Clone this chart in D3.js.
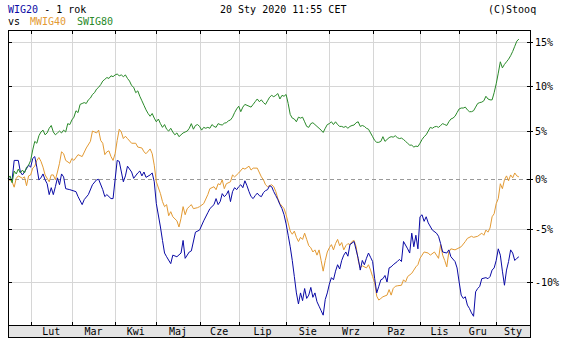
<!DOCTYPE html>
<html>
<head>
<meta charset="utf-8">
<script src="https://cdn.jsdelivr.net/npm/d3@7"></script>
<style>
  body { margin: 0; background: #fff; }
  svg { display: block; font-family: "DejaVu Sans Mono", monospace; font-size: 10px; }
</style>
</head>
<body>
<svg id="chart" width="574" height="341"></svg>
<script>
// Month labels and the session index (0 = first session shown) where each month starts
const monthLabels = ["Lut","Mar","Kwi","Maj","Cze","Lip","Sie","Wrz","Paz","Lis","Gru","Sty"];
const monthStarts = [11, 31, 52, 72, 93, 112, 135, 156, 177, 200, 219, 237];
const lastSession = 248;
const yTickValues = [15, 10, 5, 0, -5, -10];

// WIG20: session index and % change
const wig20Days = [0,2,3,5,6,7,8,10,11,12,13,14,15,16,17,18,19,20,21,22,23,24,25,26,27,28,30,33,34,36,37,39,41,43,44,46,47,48,50,51,53,54,56,57,58,60,61,63,64,65,66,67,69,70,71,72,74,75,76,77,79,80,82,84,85,86,88,89,91,93,95,97,98,100,101,102,103,104,105,106,107,108,109,110,111,112,113,114,115,116,117,118,119,120,121,122,123,124,125,126,127,128,129,130,131,132,133,134,135,136,137,138,139,140,141,142,143,144,145,146,147,148,149,150,151,152,153,154,155,156,157,158,159,160,161,162,163,164,165,166,168,169,170,171,172,173,174,175,176,177,178,179,180,181,182,183,184,185,186,187,189,190,191,192,194,195,196,197,198,199,200,201,202,203,204,206,208,209,210,211,213,214,215,217,218,219,220,221,222,223,224,225,226,227,228,229,230,232,233,234,235,236,237,238,239,240,241,242,243,244,245,246,247,248];
const wig20Pct = [0,-0.1,1.9,1.9,0.7,0.4,0.7,1.4,1.2,2.1,2.3,1.2,-0.1,0.1,0.5,-0.1,-0.5,-1.6,-0.9,-1.6,-0.8,0.1,-0.6,0.5,0.2,-1.0,-1.1,-1.3,-1.8,-2.6,-2.1,-1.6,-0.6,-0.1,-0.05,-1.1,-1.8,-1.6,-2.0,-2.0,1.9,1.8,-0.3,0.3,1.3,0.7,0.05,0.6,0.8,0.3,0.7,0.15,0.4,0.6,-0.3,-2.5,-4.8,-6.1,-7.3,-7.65,-8.3,-7.5,-7.65,-7.3,-6.1,-7.8,-7.2,-7.1,-5.3,-5.1,-4.2,-3.4,-3.0,-2.6,-2.0,-2.6,-2.3,-1.5,-1.8,-1.6,-1.2,-2.3,-1.3,-0.9,-1.1,-0.8,-0.6,-0.9,-0.2,-0.7,-1.3,-1.8,-2.0,-1.7,-1.45,-1.7,-1.8,-1.4,-1.2,-1.1,-0.7,-0.8,-1.3,-1.7,-2.1,-2.6,-3.0,-3.6,-4.5,-5.6,-6.7,-8.0,-9.5,-11.0,-12.0,-11.0,-11.7,-10.6,-11.5,-11.2,-10.5,-11.4,-11.0,-11.8,-12.2,-12.6,-13.0,-11.6,-11.0,-10.2,-9.6,-9.8,-9.0,-8.4,-8.8,-8.0,-7.5,-7.2,-7.6,-6.5,-6.2,-7.0,-7.8,-8.9,-8.0,-8.4,-7.8,-7.3,-7.7,-8.1,-9.7,-11.0,-10.4,-9.8,-9.7,-9.4,-10.0,-8.7,-8.6,-8.4,-8.1,-7.9,-8.1,-6.2,-6.9,-7.3,-5.4,-6.7,-5.6,-6.9,-3.8,-3.6,-4.25,-3.8,-4.4,-5.1,-5.4,-5.7,-6.4,-7.2,-7.3,-7.0,-7.65,-8.1,-8.7,-10.0,-11.2,-11.5,-11.35,-12.1,-12.4,-12.8,-13.1,-10.9,-10.6,-10.4,-9.7,-9.6,-9.7,-9.5,-8.9,-8.7,-8.0,-6.9,-7.5,-9.0,-10.3,-8.9,-8.1,-7.0,-7.3,-8.0,-7.8,-7.65];

// mWIG40: session index and % change
const mwig40Days = [0,2,3,4,5,7,8,9,10,11,12,13,14,15,16,17,18,20,21,22,23,24,25,26,27,28,30,31,32,34,36,38,40,41,42,43,44,45,46,47,48,49,50,51,52,53,54,55,56,57,58,60,62,63,65,66,67,69,70,71,72,74,75,76,77,78,79,80,82,83,84,85,86,87,88,89,90,92,93,95,97,98,100,101,102,103,104,105,106,108,109,110,112,114,115,117,118,119,121,123,124,125,126,128,129,130,131,132,134,135,136,137,138,139,140,141,142,143,144,145,146,147,148,149,150,151,152,153,154,155,156,157,158,159,160,161,162,163,164,165,166,167,168,169,170,171,172,174,175,176,177,178,179,180,181,182,184,185,186,187,188,189,191,192,193,194,196,197,198,199,200,201,202,204,205,207,208,209,210,211,212,213,214,215,217,218,220,222,223,225,226,228,230,231,232,233,234,235,236,237,238,239,240,241,242,243,244,245,246,247,248];
const mwig40Pct = [0,-0.3,-0.85,0.05,0.3,0.05,0.2,-0.7,0.3,0.4,1.1,1.3,1.9,2.2,1.8,1.2,0.4,-0.3,0.4,0.4,-0.1,0.7,1.6,2.8,2.6,1.9,1.6,2.1,1.9,2.5,2.3,3.2,3.9,5.0,4.9,4.8,5.1,4.0,3.7,2.5,2.8,2.9,2.3,1.9,2.6,4.0,5.2,4.9,4.2,4.45,4.2,3.7,3.7,3.3,3.2,2.8,2.6,3.1,2.6,1.4,-0.3,-1.5,-2.3,-2.8,-2.6,-3.7,-3.3,-3.8,-4.2,-4.8,-3.95,-2.8,-3.6,-3.0,-2.8,-2.6,-3.0,-2.9,-2.8,-2.5,-1.6,-1.0,-0.8,-1.1,-0.5,-0.6,-0.1,-1.0,-0.5,-0.3,0.4,0.2,0.6,1.1,1.0,1.3,0.9,1.1,1.1,0.2,-0.1,-0.6,-0.8,-0.6,-0.8,-1.3,-2.0,-2.5,-3.0,-3.6,-4.4,-5.2,-5.5,-5.2,-5.8,-6.2,-5.8,-6.0,-5.4,-6.0,-6.6,-6.8,-7.2,-7.0,-7.5,-7.0,-8.0,-9.0,-8.0,-7.2,-6.8,-6.5,-7.0,-6.4,-6.0,-6.6,-6.3,-7.0,-6.6,-6.4,-6.5,-6.2,-6.1,-6.7,-8.0,-8.7,-8.5,-8.7,-8.4,-8.9,-9.5,-10.1,-11.3,-11.65,-11.5,-11.35,-11.2,-10.7,-11.2,-10.6,-10.4,-10.35,-10.3,-9.8,-10.0,-9.5,-9.2,-8.9,-8.6,-8.4,-7.8,-7.5,-7.2,-7.3,-7.5,-7.2,-7.5,-7.8,-6.5,-7.5,-8.0,-8.6,-7.2,-6.9,-7.0,-6.9,-6.7,-6.2,-5.9,-5.7,-5.8,-5.7,-5.4,-5.6,-5.1,-5.3,-4.9,-3.8,-3.5,-2.5,-2.0,-0.5,-1.0,-0.1,0.3,-0.2,0.4,0.1,0.6,0.3,0.2];

// sWIG80: % change, one value per session
const swig80Pct = [0,0.3,-0.4,0.8,0.5,1.0,0.6,0.9,0.6,1.2,1.4,1.9,3.0,3.9,3.7,4.5,4.9,5.1,4.6,4.8,5.3,5.6,4.9,4.6,4.8,5.0,4.8,5.1,4.9,5.8,5.7,6.2,6.5,7.2,7.0,7.9,8.0,8.1,8.0,8.4,8.6,9.0,9.2,9.6,9.8,10.1,10.5,10.7,10.9,10.8,11.1,11.0,11.2,11.3,11.1,11.2,11.0,11.2,10.8,10.5,10.0,9.8,9.2,9.4,8.8,8.3,7.8,7.3,6.9,6.6,6.9,6.4,6.0,6.3,5.8,5.4,5.7,5.2,5.0,5.3,4.9,4.6,4.8,4.4,4.6,4.8,4.9,5.0,5.3,5.8,5.2,5.6,5.7,5.5,5.1,5.4,5.3,5.4,5.3,5.7,5.5,5.4,5.8,5.7,5.65,5.85,5.9,6.1,6.2,6.5,7.0,7.4,7.7,7.1,7.6,7.9,7.8,7.7,7.6,7.9,8.2,8.5,8.2,8.4,8.1,7.9,8.3,8.7,8.9,8.75,8.9,9.1,8.5,8.9,8.8,9.0,8.0,6.8,6.4,6.3,6.0,6.5,6.4,6.5,6.0,5.5,5.4,5.8,5.9,5.7,5.5,5.3,5.1,4.85,5.3,5.7,5.8,6.0,5.7,6.0,5.7,5.5,5.5,5.4,5.5,5.3,5.5,5.6,5.65,5.9,6.0,5.5,5.6,5.5,5.3,5.2,4.8,4.4,4.0,3.8,3.8,3.9,4.4,3.9,4.1,4.3,4.4,4.35,4.5,4.3,4.2,4.25,4.1,3.9,3.7,3.5,3.5,3.3,3.4,3.35,3.7,4.1,4.4,4.6,5.0,5.4,5.3,5.45,5.5,5.4,5.6,5.8,5.7,5.6,6.0,6.3,6.4,6.6,7.0,7.4,7.5,7.5,7.6,7.3,7.1,7.1,7.2,7.6,8.0,8.1,8.15,8.3,8.8,8.5,8.4,8.4,9.2,10.2,11.4,12.7,12.0,12.4,12.7,13.0,13.4,13.9,14.5,15.1,15.35];

const colors = { wig20: "#0a0aa5", mwig40: "#e39a33", swig80: "#2a8a2a" };

const svg = d3.select("#chart");
const plot = { left: 8, right: 530, top: 30, bottom: 325, band: 337 };

// Session index → x; percent change → y on a log (ratio) scale
const x = d3.scaleLinear().domain([0, 253.4]).range([plot.left, plot.right]);
const yRatio = d3.scaleLog().domain([0.8613, 1.1642]).range([plot.bottom, plot.top]);
const y = p => yRatio(1 + p / 100);
const crisp = v => Math.round(v) + 0.5;

const g = svg.append("g");

// vertical month grid
g.selectAll("line.vgrid").data(monthStarts).join("line")
  .attr("x1", d => crisp(x(d))).attr("x2", d => crisp(x(d)))
  .attr("y1", plot.top).attr("y2", plot.bottom)
  .attr("stroke", "#d6d6d6").attr("stroke-width", 1);

// horizontal grid
g.selectAll("line.hgrid").data(yTickValues.filter(v => v !== 0)).join("line")
  .attr("x1", plot.left).attr("x2", plot.right)
  .attr("y1", d => crisp(y(d))).attr("y2", d => crisp(y(d)))
  .attr("stroke", "#d6d6d6").attr("stroke-width", 1);

// zero line
g.append("line")
  .attr("x1", plot.left).attr("x2", plot.right)
  .attr("y1", crisp(y(0))).attr("y2", crisp(y(0)))
  .attr("stroke", "#9a9a9a").attr("stroke-dasharray", "4,3");

// series
const line = d3.line().x(d => x(d[0])).y(d => y(d[1]));
const series = [
  { key: "mwig40", pts: d3.zip(mwig40Days, mwig40Pct) },
  { key: "wig20", pts: d3.zip(wig20Days, wig20Pct) },
  { key: "swig80", pts: swig80Pct.map((v, i) => [i, v]) }
];
g.selectAll("path.series").data(series).join("path")
  .attr("d", d => line(d.pts))
  .attr("fill", "none")
  .attr("stroke", d => colors[d.key])
  .attr("stroke-width", 1);

// date band under the plot
g.append("rect")
  .attr("x", plot.left + 0.5).attr("y", plot.bottom + 0.5)
  .attr("width", plot.right - plot.left).attr("height", plot.band - plot.bottom)
  .attr("fill", "#e4e4e4").attr("stroke", "#000");

// frame
g.append("rect")
  .attr("x", plot.left + 0.5).attr("y", plot.top + 0.5)
  .attr("width", plot.right - plot.left).attr("height", plot.band - plot.top)
  .attr("fill", "none").attr("stroke", "#000");

// month ticks (top and bottom of plot)
monthStarts.forEach(d => {
  const xx = crisp(x(d));
  g.append("line").attr("x1", xx).attr("x2", xx).attr("y1", plot.top).attr("y2", plot.top + 4).attr("stroke", "#000");
  g.append("line").attr("x1", xx).attr("x2", xx).attr("y1", plot.bottom - 3).attr("y2", plot.bottom).attr("stroke", "#000");
});

// month labels centred in each month span
const spanEnds = monthStarts.slice(1).concat([253.4]);
g.selectAll("text.month").data(monthLabels).join("text")
  .attr("x", (d, i) => (x(monthStarts[i]) + x(spanEnds[i])) / 2)
  .attr("y", 335)
  .attr("text-anchor", "middle")
  .attr("fill", "#000")
  .text(d => d);

// y ticks and labels (right side), short ticks on the left
yTickValues.forEach(v => {
  const yy = crisp(y(v));
  g.append("line").attr("x1", plot.right - 3).attr("x2", plot.right + 3).attr("y1", yy).attr("y2", yy).attr("stroke", "#000");
  g.append("line").attr("x1", plot.left).attr("x2", plot.left + 4).attr("y1", yy).attr("y2", yy).attr("stroke", "#000");
  g.append("text").attr("x", 535).attr("y", yy + 3.5).attr("fill", "#000").text(v + "%");
});

// header
const h1 = svg.append("text").attr("x", 8).attr("y", 13);
h1.append("tspan").attr("fill", colors.wig20).text("WIG20");
h1.append("tspan").attr("fill", "#000").text(" - 1 rok");
svg.append("text").attr("x", 220).attr("y", 13).attr("fill", "#000").text("20 Sty 2020 11:55 CET");
svg.append("text").attr("x", 488).attr("y", 13).attr("fill", "#000").text("(C)Stooq");
const h2 = svg.append("text").attr("x", 8).attr("y", 25).attr("xml:space", "preserve");
h2.append("tspan").attr("fill", "#000").text("vs ");
h2.append("tspan").attr("fill", colors.mwig40).attr("x", 30).text("MWIG40");
h2.append("tspan").attr("fill", colors.swig80).attr("x", 77).text("SWIG80");
</script>
</body>
</html>
